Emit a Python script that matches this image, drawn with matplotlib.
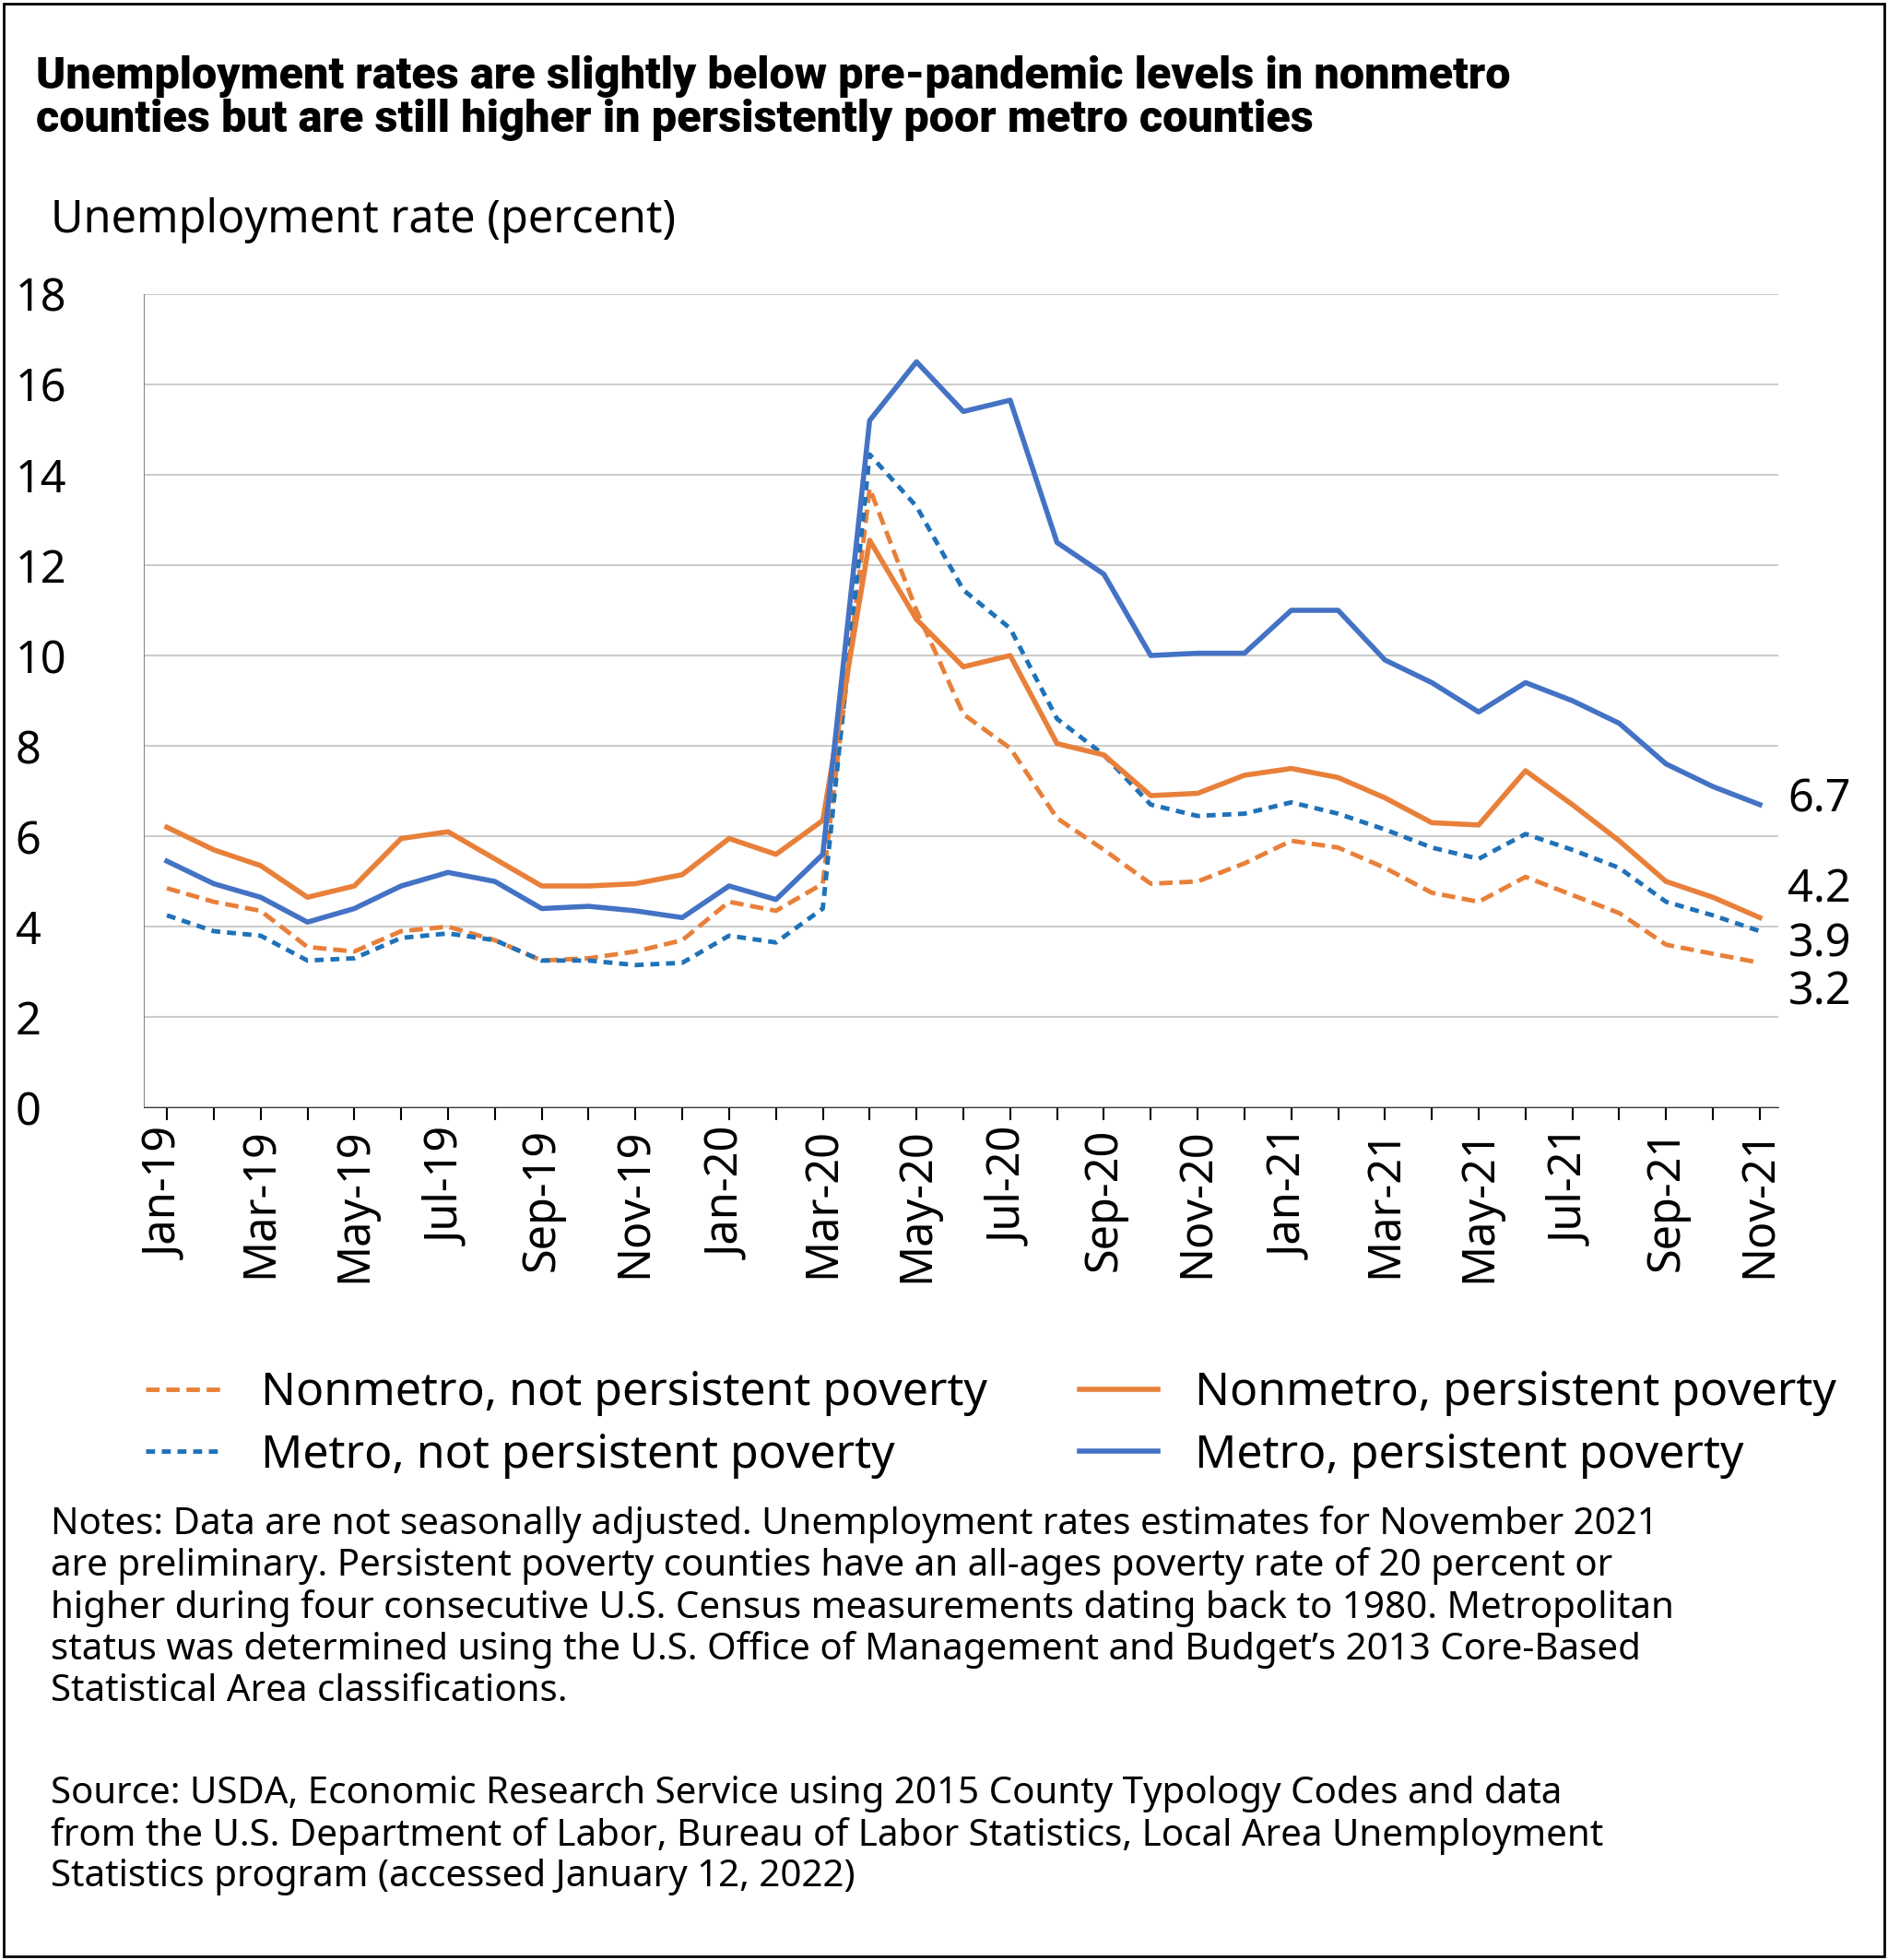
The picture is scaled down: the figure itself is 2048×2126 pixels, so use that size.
import matplotlib
matplotlib.use("Agg")
import matplotlib.pyplot as plt
from matplotlib.patches import Rectangle

months = ["Jan", "Feb", "Mar", "Apr", "May", "Jun", "Jul", "Aug", "Sep", "Oct", "Nov", "Dec"]
labels = [f"{m}-{y}" for y in ("19", "20", "21") for m in months][:35]

nonmetro_not = [4.85, 4.55, 4.35, 3.55, 3.45, 3.9, 4.0, 3.7, 3.25, 3.3, 3.45, 3.7,
                4.55, 4.35, 4.95, 13.7, 11.0, 8.7, 7.95, 6.4, 5.7, 4.95, 5.0, 5.4,
                5.9, 5.75, 5.3, 4.75, 4.55, 5.1, 4.7, 4.3, 3.6, 3.4, 3.2]
nonmetro_pers = [6.2, 5.7, 5.35, 4.65, 4.9, 5.95, 6.1, 5.5, 4.9, 4.9, 4.95, 5.15,
                 5.95, 5.6, 6.35, 12.55, 10.8, 9.75, 10.0, 8.05, 7.8, 6.9, 6.95, 7.35,
                 7.5, 7.3, 6.85, 6.3, 6.25, 7.45, 6.7, 5.9, 5.0, 4.65, 4.2]
metro_not = [4.25, 3.9, 3.8, 3.25, 3.3, 3.75, 3.85, 3.7, 3.25, 3.25, 3.15, 3.2,
             3.8, 3.65, 4.4, 14.45, 13.3, 11.45, 10.6, 8.6, 7.8, 6.7, 6.45, 6.5,
             6.75, 6.5, 6.15, 5.75, 5.5, 6.05, 5.7, 5.3, 4.55, 4.25, 3.9]
metro_pers = [5.45, 4.95, 4.65, 4.1, 4.4, 4.9, 5.2, 5.0, 4.4, 4.45, 4.35, 4.2,
              4.9, 4.6, 5.6, 15.2, 16.5, 15.4, 15.65, 12.5, 11.8, 10.0, 10.05, 10.05,
              11.0, 11.0, 9.9, 9.4, 8.75, 9.4, 9.0, 8.5, 7.6, 7.1, 6.7]

ORANGE = "#E8803A"
BLUE = "#4472C4"
BLUE_D = "#1F72B8"

plt.rcParams["font.family"] = ["Noto Sans", "DejaVu Sans"]
fig = plt.figure(figsize=(20.48, 21.26), dpi=100)
ax = fig.add_axes([0.076, 0.435, 0.866, 0.415])

x = list(range(len(labels)))
ax.plot(x, nonmetro_not, color=ORANGE, lw=3.5, ls=(0, (3, 1.5)), label="Nonmetro, not persistent poverty")
ax.plot(x, metro_not, color=BLUE_D, lw=3.5, ls=(0, (2, 1.5)), label="Metro, not persistent poverty")
ax.plot(x, nonmetro_pers, color=ORANGE, lw=4, label="Nonmetro, persistent poverty")
ax.plot(x, metro_pers, color=BLUE, lw=4, label="Metro, persistent poverty")

ax.set_ylim(0, 18)
ax.set_yticks(range(0, 19, 2))
ax.set_xlim(-0.5, 34.4)
ax.set_xticks(x, minor=True)
ax.set_xticks(x[::2])
ax.set_xticklabels(labels[::2], rotation=90)
ax.tick_params(axis="x", which="both", length=10, width=1.5, labelsize=35, pad=6)
ax.tick_params(axis="y", length=0, labelsize=35, pad=100)
for lab in ax.get_yticklabels():
    lab.set_horizontalalignment("left")
ax.grid(axis="y", color="#cccccc", lw=1.5)
ax.set_axisbelow(True)
for s in ("top", "right"):
    ax.spines[s].set_visible(False)
ax.spines["left"].set_color("#888888")
ax.spines["bottom"].set_color("#333333")

for v, yo in ((metro_pers[-1], 0.1), (nonmetro_pers[-1], 0.6), (metro_not[-1], -0.3), (nonmetro_not[-1], -0.65)):
    ax.text(34.6, v + yo, f"{v}", fontsize=35, va="center", ha="left")

fig.legend(loc="upper left", bbox_to_anchor=(0.055, 0.322), ncol=2, frameon=False,
           fontsize=36, handlelength=1.7, columnspacing=2.0, labelspacing=0.35,
           handletextpad=0.8)

fig.text(0.019, 0.972, "Unemployment rates are slightly below pre-pandemic levels in nonmetro\n"
         "counties but are still higher in persistently poor metro counties",
         fontsize=35, fontweight="heavy", family=["Roboto", "DejaVu Sans"], va="top",
         linespacing=1.05)
fig.text(0.027, 0.876, "Unemployment rate (percent)", fontsize=35, va="bottom")

notes = ("Notes: Data are not seasonally adjusted. Unemployment rates estimates for November 2021\n"
         "are preliminary. Persistent poverty counties have an all-ages poverty rate of 20 percent or\n"
         "higher during four consecutive U.S. Census measurements dating back to 1980. Metropolitan\n"
         "status was determined using the U.S. Office of Management and Budget\u2019s 2013 Core-Based\n"
         "Statistical Area classifications.")
fig.text(0.027, 0.232, notes, fontsize=29, va="top", linespacing=1.15)
source = ("Source: USDA, Economic Research Service using 2015 County Typology Codes and data\n"
          "from the U.S. Department of Labor, Bureau of Labor Statistics, Local Area Unemployment\n"
          "Statistics program (accessed January 12, 2022)")
fig.text(0.027, 0.094, source, fontsize=29, va="top", linespacing=1.15)

fig.patches.append(Rectangle((0.002, 0.002), 0.996, 0.996, transform=fig.transFigure,
                             fill=False, edgecolor="black", lw=2))
fig.savefig("out.png", dpi=100)
